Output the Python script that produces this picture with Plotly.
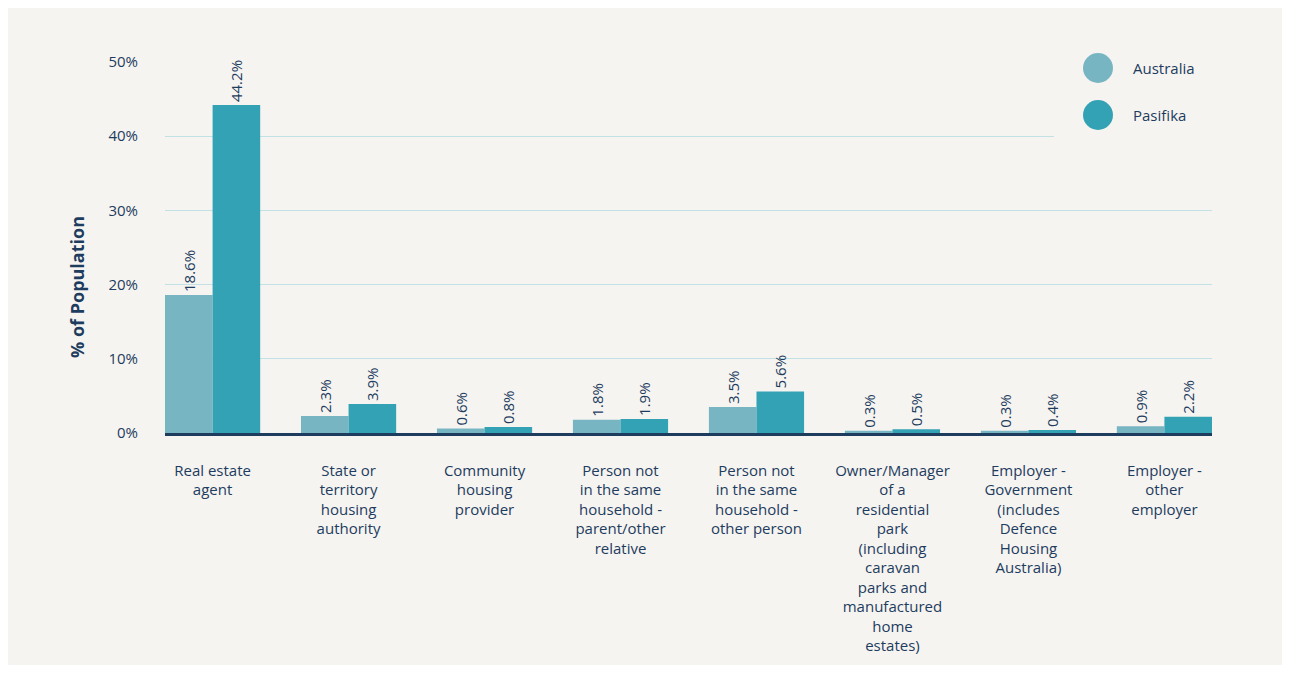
import plotly.graph_objects as go

# categories and values (% of population)
categories = [
    "Real estate<br>agent",
    "State or<br>territory<br>housing<br>authority",
    "Community<br>housing<br>provider",
    "Person not<br>in the same<br>household -<br>parent/other<br>relative",
    "Person not<br>in the same<br>household -<br>other person",
    "Owner/Manager<br>of a<br>residential<br>park<br>(including<br>caravan<br>parks and<br>manufactured<br>home<br>estates)",
    "Employer -<br>Government<br>(includes<br>Defence<br>Housing<br>Australia)",
    "Employer -<br>other<br>employer",
]
australia = [18.6, 2.3, 0.6, 1.8, 3.5, 0.3, 0.3, 0.9]
pasifika = [44.2, 3.9, 0.8, 1.9, 5.6, 0.5, 0.4, 2.2]
y_ticks = [0, 10, 20, 30, 40, 50]

NAVY = "#1d3c5e"
BG = "#f6f4f1"
C_AUS = "#78b5c3"
C_PAS = "#33a2b4"
FONT = "Open Sans"

fig = go.Figure()
for name, vals, col in [("Australia", australia, C_AUS), ("Pasifika", pasifika, C_PAS)]:
    fig.add_trace(go.Bar(
        name=name, x=categories, y=vals,
        marker_color=col, marker_line_width=0,
        text=[f"{v:.1f}%" for v in vals], textposition="outside",
        textangle=-90, textfont=dict(size=15, color=NAVY, family=FONT),
        cliponaxis=False, showlegend=False,
    ))

# page body has an 8px margin on every side, so work in page pixels minus 8
OFF = 8
W, H = 1290 - 2 * OFF, 673 - 2 * OFF
L, R, T, B = 165 - OFF, 78 - OFF, 62 - OFF, 240 - OFF
pw, ph = W - L - R, H - T - B


def px_x(x):
    return (x - OFF - L) / pw


def px_y(y):
    return (H - B - (y - OFF)) / ph


shapes = [
    # legend backdrop hiding gridlines
    dict(type="rect", xref="paper", yref="paper", layer="above",
         x0=px_x(1054), x1=px_x(1215), y0=px_y(150), y1=px_y(40),
         fillcolor=BG, line_width=0),
]
annotations = [
    dict(text="<b>% of Population</b>", xref="paper", yref="paper",
         x=px_x(77), y=px_y(287), textangle=-90, showarrow=False,
         font=dict(size=18, color=NAVY, family=FONT),
         xanchor="center", yanchor="middle"),
]
for name, col, cy in [("Australia", C_AUS, 68), ("Pasifika", C_PAS, 115)]:
    shapes.append(dict(type="circle", xref="paper", yref="paper", layer="above",
                       x0=px_x(1083), x1=px_x(1113), y0=px_y(cy + 15), y1=px_y(cy - 15),
                       fillcolor=col, line_width=0))
    annotations.append(dict(text=name, xref="paper", yref="paper",
                            x=px_x(1131), y=px_y(cy), showarrow=False,
                            xanchor="left", yanchor="middle",
                            font=dict(size=15, color=NAVY, family=FONT)))

fig.update_layout(
    width=W, height=H,
    margin=dict(l=L, r=R, t=T, b=B),
    paper_bgcolor=BG,
    plot_bgcolor=BG,
    barmode="group",
    bargap=0.30,
    bargroupgap=0,
    font=dict(family=FONT, color=NAVY),
    shapes=shapes,
    annotations=annotations,
)
fig.update_xaxes(
    range=[-0.35, 7.35], showline=True, linecolor=NAVY, linewidth=2.5,
    showgrid=False, ticks="", tickangle=0, ticklabelstandoff=22,
    automargin=False,
    tickfont=dict(size=15, color=NAVY, family=FONT),
)
fig.update_yaxes(
    range=[0, 50], tickvals=y_ticks, ticktext=[f"{v}%" for v in y_ticks],
    showgrid=True, gridcolor="#c2e1e5", gridwidth=1, zeroline=False,
    ticks="", ticklabelstandoff=26, automargin=False,
    tickfont=dict(size=15, color=NAVY, family=FONT),
)

fig.write_html("out.html")
